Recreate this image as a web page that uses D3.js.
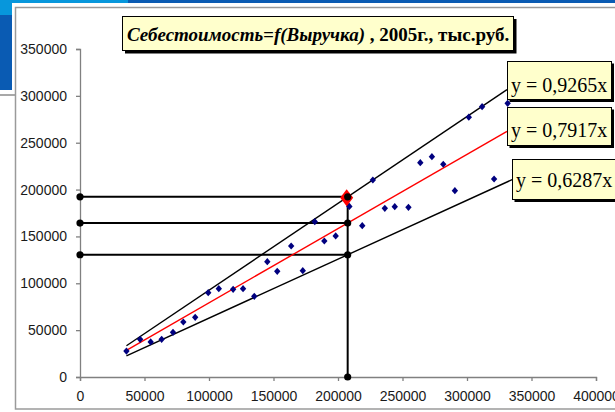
<!DOCTYPE html>
<html>
<head>
<meta charset="utf-8">
<script src="https://cdn.jsdelivr.net/npm/d3@7"></script>
<style>
  html, body { margin: 0; padding: 0; background: #fff; }
  svg { display: block; }
</style>
</head>
<body>
<svg id="chart" width="615" height="412"></svg>
<script>
// Revenue (x) and cost (y) by enterprise, thousand rubles, 2005
const revenue = [36000, 46600, 54800, 63300, 72100, 80100, 89300, 99400, 107600, 118700,
  126400, 135100, 145200, 152900, 163700, 172700, 182000, 189400, 198200, 208800,
  218800, 227000, 236300, 244000, 254600, 263800, 272800, 281600, 290600, 301400,
  311700, 321000, 331500];
const cost = [27700, 40200, 37400, 40200, 47700, 58700, 63700, 90000, 94300, 93600,
  94300, 86100, 123100, 112800, 139800, 113500, 165700, 145100, 150500, 182000,
  161500, 210200, 180000, 181800, 181100, 228700, 235100, 227000, 198800, 277200,
  288500, 211300, 292000];

// Trend slopes: upper bound, mean, lower bound
const slopes = [0.9265, 0.7917, 0.6287];
const slopeLabels = ["y = 0,9265x", "y = 0,7917x", "y = 0,6287x"];
const slopeColors = ["#000000", "#ff0000", "#000000"];
const lineStart = [36000, 36000, 36000];
const lineEnd = [331000, 331000, 335000];

// Revenue level used for the projection
const projRevenue = 207500;

const xTicks = [0, 50000, 100000, 150000, 200000, 250000, 300000, 350000, 400000];
const yTicks = [0, 50000, 100000, 150000, 200000, 250000, 300000, 350000];

const titleItalic = "Себестоимость=f(Выручка)";
const titleRest = " , 2005г., тыс.руб.";

const svg = d3.select("#chart");

// slide decoration
svg.append("rect").attr("x", 0).attr("y", 0).attr("width", 615).attr("height", 3).attr("fill", "#0a5bb3");
svg.append("rect").attr("x", 0).attr("y", 0).attr("width", 128).attr("height", 3).attr("fill", "#0797dc");
svg.append("rect").attr("x", 0).attr("y", 0).attr("width", 12).attr("height", 90).attr("fill", "#0a5bb3");
svg.append("rect").attr("x", 0).attr("y", 0).attr("width", 12).attr("height", 15).attr("fill", "#0797dc");
svg.append("rect").attr("x", 0).attr("y", 94).attr("width", 15).attr("height", 2).attr("fill", "#a8a8a8");

// chart area frame
svg.append("rect").attr("x", 15.5).attr("y", 7.5).attr("width", 620).attr("height", 401.5)
  .attr("fill", "#fff").attr("stroke", "#9a9a9a").attr("stroke-width", 1.5);

const x = d3.scaleLinear().domain([0, 400000]).range([80, 596]);
const y = d3.scaleLinear().domain([0, 350000]).range([377, 49]);

const xAxis = svg.append("g").attr("transform", `translate(0,${y(0)})`)
  .call(d3.axisBottom(x).tickValues(xTicks).tickFormat(d3.format("d")).tickSize(4).tickPadding(10));
const yAxis = svg.append("g").attr("transform", `translate(${x(0)},0)`)
  .call(d3.axisLeft(y).tickValues(yTicks).tickFormat(d3.format("d")).tickSize(4).tickPadding(9));
[xAxis, yAxis].forEach(g => {
  g.select(".domain").attr("stroke", "#808080").attr("stroke-width", 1.3);
  g.selectAll(".tick line").attr("stroke", "#808080").attr("stroke-width", 1.3);
  g.selectAll(".tick text").attr("fill", "#1a1a1a")
    .style("font-family", "'Liberation Sans', Arial, sans-serif").style("font-size", "14px");
});

// projection lines
const projLevels = slopes.map(k => k * projRevenue);
const refG = svg.append("g");
projLevels.forEach(v => {
  refG.append("line").attr("x1", x(0)).attr("x2", x(projRevenue))
    .attr("y1", y(v)).attr("y2", y(v)).attr("stroke", "#000").attr("stroke-width", 2);
});
refG.append("line").attr("x1", x(projRevenue)).attr("x2", x(projRevenue))
  .attr("y1", y(0)).attr("y2", y(projLevels[0])).attr("stroke", "#000").attr("stroke-width", 2);

// trend lines
slopes.forEach((k, i) => {
  svg.append("line")
    .attr("x1", x(lineStart[i])).attr("y1", y(k * lineStart[i]))
    .attr("x2", x(lineEnd[i])).attr("y2", y(k * lineEnd[i]))
    .attr("stroke", slopeColors[i]).attr("stroke-width", 1.4);
});

// data points
const diamond = "M0,-3.6L3.2,0L0,3.6L-3.2,0Z";
svg.append("g").selectAll("path").data(revenue).join("path")
  .attr("transform", (d, i) => `translate(${x(d)},${y(cost[i])})`)
  .attr("d", diamond).attr("fill", "#00007f");

// highlighted projection point
svg.append("path")
  .attr("transform", `translate(${x(projRevenue) - 1},${y(projLevels[0]) + 1})`)
  .attr("d", "M0,-8.5L6.5,0L0,8.5L-6.5,0Z").attr("fill", "#ff0000");

// end-point markers
const dots = [];
projLevels.forEach(v => { dots.push([0, v]); dots.push([projRevenue, v]); });
dots.push([projRevenue, 0]);
svg.append("g").selectAll("circle").data(dots).join("circle")
  .attr("cx", d => x(d[0])).attr("cy", d => y(d[1])).attr("r", 3.6).attr("fill", "#000");

// labelled boxes
function box(x0, y0, w, h, sh) {
  svg.append("rect").attr("x", x0 + sh).attr("y", y0 + sh).attr("width", w + 0.5).attr("height", h + 0.5).attr("fill", "#000");
  svg.append("rect").attr("x", x0 + 0.5).attr("y", y0 + 0.5).attr("width", w).attr("height", h)
    .attr("fill", "#ffffcc").attr("stroke", "#000").attr("stroke-width", 1);
}

box(122, 16, 391, 34, 3);
const title = svg.append("text").attr("x", 127).attr("y", 41)
  .style("font-family", "'Liberation Serif', 'Times New Roman', serif")
  .style("font-size", "19px").style("font-weight", "bold").attr("fill", "#000");
title.append("tspan").style("font-style", "italic").text(titleItalic);
title.append("tspan").text(titleRest);

const labelBoxes = [[507, 61, 104, 38], [507, 107, 104, 38], [512, 159, 106, 40]];
const labelBase = [92, 137, 187];
labelBoxes.forEach((b, i) => {
  box(b[0], b[1], b[2], b[3], 2.5);
  svg.append("text").attr("x", b[0] + 4).attr("y", labelBase[i])
    .style("font-family", "'Liberation Serif', 'Times New Roman', serif")
    .style("font-size", "20px").attr("fill", "#000").text(slopeLabels[i]);
});
</script>
</body>
</html>
